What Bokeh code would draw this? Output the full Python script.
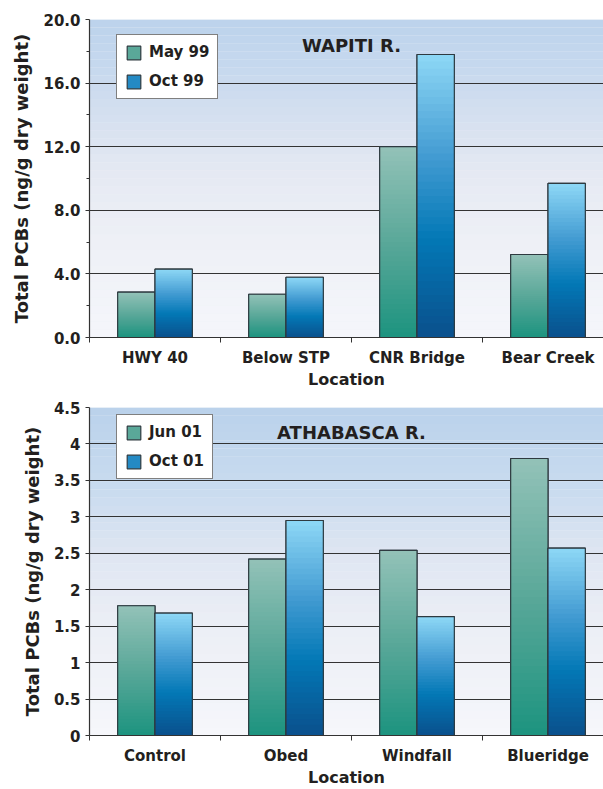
import numpy as np
from bokeh.plotting import figure
from bokeh.layouts import column
from bokeh.models import (FixedTicker, BoxAnnotation, Label, Legend, LegendItem,
                          ColumnDataSource, Range1d)
from bokeh.embed import file_html
from bokeh.resources import INLINE

# ---------------- data ----------------
wap_locations = ["HWY 40", "Below STP", "CNR Bridge", "Bear Creek"]
wap_may99 = [2.85, 2.72, 12.0, 5.22]
wap_oct99 = [4.30, 3.79, 17.8, 9.69]
wap_series = ["May 99", "Oct 99"]
wap_yticks = [0, 4, 8, 12, 16, 20]
wap_ytick_labels = ["0.0", "4.0", "8.0", "12.0", "16.0", "20.0"]
wap_yminor = [2, 6, 10, 14, 18]

ath_locations = ["Control", "Obed", "Windfall", "Blueridge"]
ath_jun01 = [1.78, 2.42, 2.54, 3.80]
ath_oct01 = [1.68, 2.95, 1.63, 2.57]
ath_series = ["Jun 01", "Oct 01"]
ath_yticks = [0, 0.5, 1, 1.5, 2, 2.5, 3, 3.5, 4, 4.5]
ath_ytick_labels = ["0", "0.5", "1", "1.5", "2", "2.5", "3", "3.5", "4", "4.5"]

y_title = "Total PCBs (ng/g dry weight)"
x_title = "Location"

FONT = "DejaVu Sans"
TXT = "#231f20"
EDGE = "#2e3a40"

TEAL_STOPS = [(0.0, (0x1c, 0x93, 0x7f)), (0.5, (0x5a, 0xa8, 0x99)), (1.0, (0x93, 0xc2, 0xb8))]
BLUE_STOPS = [(0.0, (0x0a, 0x50, 0x8c)), (0.35, (0x03, 0x78, 0xb6)),
              (0.65, (0x45, 0x9d, 0xd3)), (1.0, (0x8e, 0xd8, 0xf6))]


def interp(stops, t):
    for (p0, c0), (p1, c1) in zip(stops[:-1], stops[1:]):
        if t <= p1:
            u = (t - p0) / (p1 - p0) if p1 > p0 else 0
            c = [int(round(a + (b - a) * u)) for a, b in zip(c0, c1)]
            return "#%02x%02x%02x" % tuple(c)
    return "#%02x%02x%02x" % stops[-1][1]


def gradient_bars(p, values, offset, width, stops, n=40):
    nbar = len(values)
    osrc = ColumnDataSource(dict(left=[i + 0.5 + offset for i in range(nbar)],
                                 right=[i + 0.5 + offset + width for i in range(nbar)],
                                 top=list(values), bottom=[0] * nbar))
    # base bar (mid colour, used as legend swatch), covered by the gradient
    base = p.quad(left="left", right="right", top="top", bottom="bottom", source=osrc,
                  fill_color=interp(stops, 0.5), line_color=EDGE, line_width=1.2)
    lefts, rights, tops, colors = [], [], [], []
    # tallest (top colour) first, shorter ones drawn over it -> vertical gradient
    for j in range(n - 1, -1, -1):
        for i, v in enumerate(values):
            lefts.append(i + 0.5 + offset)
            rights.append(i + 0.5 + offset + width)
            tops.append(v * (j + 1) / n)
            colors.append(interp(stops, (j + 0.5) / n))
    src = ColumnDataSource(dict(left=lefts, right=rights, top=tops,
                                bottom=[0] * len(tops), color=colors))
    p.quad(left="left", right="right", top="top", bottom="bottom", source=src,
           fill_color="color", line_color=None)
    p.quad(left="left", right="right", top="top", bottom="bottom", source=osrc,
           fill_color=None, line_color=EDGE, line_width=1.2)
    return base


SKY_TOP = [(0.0, (0xf5, 0xf6, 0xfb)), (0.3, (0xee, 0xf0, 0xf6)), (0.5, (0xe6, 0xea, 0xf3)),
           (0.65, (0xd9, 0xe2, 0xf0)), (0.85, (0xc6, 0xd8, 0xee)), (1.0, (0xbc, 0xd3, 0xec))]
SKY_BOT = [(0.0, (0xf6, 0xf7, 0xfb)), (0.35, (0xeb, 0xee, 0xf5)), (0.55, (0xdf, 0xe6, 0xf2)),
           (0.75, (0xc9, 0xdb, 0xef)), (1.0, (0xba, 0xd2, 0xeb))]


def make_chart(title, locations, s1, s2, names, ymax, yticks, ylabels, yminor, sky,
               height, border_top, frame_h, legend_top, title_xy, cat_w):
    frame_left = 89
    width = 603
    frame_w = width - frame_left
    p = figure(width=width, height=height, output_backend="svg", toolbar_location=None,
               x_range=Range1d(0, frame_w / cat_w), y_range=Range1d(0, ymax),
               min_border_left=frame_left, min_border_right=0, min_border_top=border_top,
               min_border_bottom=height - border_top - frame_h)
    p.outline_line_color = None
    p.background_fill_color = "#eef1f7"
    p.border_fill_color = "white"

    # sky-like background bands
    nb = 40
    for k in range(nb):
        b = ymax * k / nb
        t = ymax * (k + 1) / nb
        p.add_layout(BoxAnnotation(bottom=b, top=t, fill_color=interp(sky, (k + 0.5) / nb),
                                   fill_alpha=1, line_color=None, level="image"))

    r1 = gradient_bars(p, s1, -0.285, 0.285, TEAL_STOPS)
    r2 = gradient_bars(p, s2, 0.0, 0.285, BLUE_STOPS)

    # axes
    xa = p.xaxis[0]
    xa.ticker = FixedTicker(ticks=[i + 0.5 for i in range(len(locations))],
                            minor_ticks=list(range(len(locations))))
    xa.major_label_overrides = {i + 0.5: lab for i, lab in enumerate(locations)}
    xa.minor_tick_in = 0
    xa.minor_tick_out = 5
    xa.axis_label = x_title
    ya = p.yaxis[0]
    ya.ticker = FixedTicker(ticks=yticks, minor_ticks=yminor)
    ya.major_label_overrides = dict(zip(yticks, ylabels))
    ya.major_tick_in = 0
    ya.major_tick_out = 4
    ya.minor_tick_in = 0
    ya.minor_tick_out = 3
    ya.axis_label = y_title
    for ax in (xa, ya):
        ax.axis_line_color = "#333333"
        ax.axis_line_width = 1.2
        ax.major_label_text_font = FONT
        ax.major_label_text_font_style = "bold"
        ax.major_label_text_font_size = "15px"
        ax.major_label_text_color = TXT
        ax.axis_label_text_font = FONT
        ax.axis_label_text_font_style = "bold"
        ax.axis_label_text_color = TXT
    xa.major_tick_line_color = None
    xa.minor_tick_line_color = "#333333"
    ya.major_tick_line_color = "#333333"
    ya.minor_tick_line_color = "#333333" if yminor else None
    xa.axis_label_text_font_size = "16px"
    ya.axis_label_text_font_size = "18px"
    xa.major_label_standoff = 5
    xa.axis_label_standoff = 0
    ya.major_label_standoff = 5
    ya.axis_label_standoff = 8

    p.xgrid.visible = False
    p.ygrid.ticker = FixedTicker(ticks=yticks)
    p.ygrid.grid_line_color = "#333333"
    p.ygrid.grid_line_width = 1.2

    p.add_layout(Label(x=title_xy[0], y=title_xy[1], text=title, text_font=FONT,
                       text_font_style="bold", text_font_size="18px", text_color=TXT,
                       text_align="center", text_baseline="middle"))

    legend_h = 62
    leg = Legend(items=[LegendItem(label=names[0], renderers=[r1]),
                        LegendItem(label=names[1], renderers=[r2])],
                 location=(27, frame_h - legend_top - legend_h))
    leg.label_text_font = FONT
    leg.label_text_font_style = "bold"
    leg.label_text_font_size = "15px"
    leg.label_text_color = TXT
    leg.glyph_width = 17
    leg.glyph_height = 17
    leg.label_standoff = 7
    leg.padding = 8
    leg.spacing = 11
    leg.margin = 0
    leg.border_line_color = "black"
    leg.border_line_width = 1
    leg.background_fill_color = "white"
    leg.background_fill_alpha = 1
    p.add_layout(leg, "center")
    return p


p1 = make_chart("WAPITI R.", wap_locations, wap_may99, wap_oct99, wap_series, 20,
                wap_yticks, wap_ytick_labels, wap_yminor, SKY_TOP,
                height=395, border_top=19, frame_h=318, legend_top=18,
                title_xy=(2.0, 18.35), cat_w=131)
p2 = make_chart("ATHABASCA R.", ath_locations, ath_jun01, ath_oct01, ath_series, 4.5,
                ath_yticks, ath_ytick_labels, [], SKY_BOT,
                height=394, border_top=12, frame_h=332, legend_top=14,
                title_xy=(2.0, 4.16), cat_w=131)

layout = column(p1, p2, spacing=0)
open("out.html", "w").write(file_html(layout, INLINE))
